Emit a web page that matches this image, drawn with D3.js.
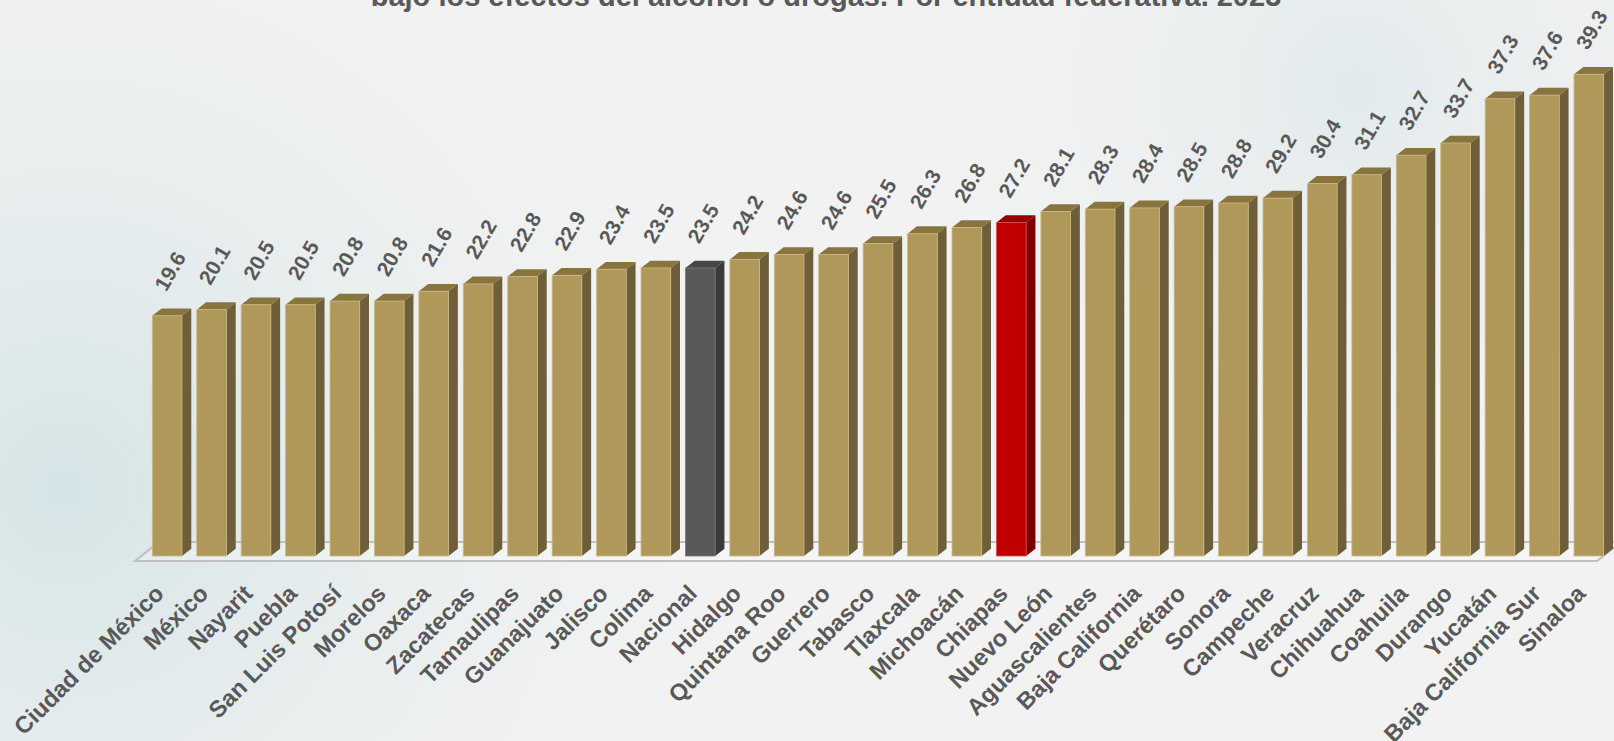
<!DOCTYPE html>
<html>
<head>
    <meta charset="utf-8">
    <title>entidades_2023</title>
    <script src="https://d3js.org/d3.v7.min.js"></script>
    <style>
        html, body { margin: 0; padding: 0; background: #f2f2f2; }
        svg { display: block; }
        text { font-family: "Liberation Sans", Arial, sans-serif; font-weight: bold; fill: #595959; }
    </style>
</head>
<body>
    <svg width="1614" height="741"></svg>
    <script>
        // Entidades ordenadas de menor a mayor
        var estados = ["Ciudad de México", "México", "Nayarit", "Puebla", "San Luis Potosí", "Morelos",
            "Oaxaca", "Zacatecas", "Tamaulipas", "Guanajuato", "Jalisco", "Colima", "Nacional",
            "Hidalgo", "Quintana Roo", "Guerrero", "Tabasco", "Tlaxcala", "Michoacán", "Chiapas",
            "Nuevo León", "Aguascalientes", "Baja California", "Querétaro", "Sonora", "Campeche",
            "Veracruz", "Chihuahua", "Coahuila", "Durango", "Yucatán", "Baja California Sur", "Sinaloa"];

        var porcentajes = [19.6, 20.1, 20.5, 20.5, 20.8, 20.8, 21.6, 22.2, 22.8, 22.9, 23.4, 23.5, 23.5,
            24.2, 24.6, 24.6, 25.5, 26.3, 26.8, 27.2, 28.1, 28.3, 28.4, 28.5, 28.8, 29.2,
            30.4, 31.1, 32.7, 33.7, 37.3, 37.6, 39.3];

        var titulo = "bajo los efectos del alcohol o drogas. Por entidad federativa. 2023";

        var svg = d3.select("svg");
        var W = 1614, H = 741;

        // fondo con degradados suaves
        var defs = svg.append("defs");
        var g1 = defs.append("radialGradient").attr("id", "bg1")
            .attr("cx", 0.04).attr("cy", 0.66).attr("r", 0.45)
            .attr("gradientTransform", "translate(0.04,0.66) scale(1,2.2) translate(-0.04,-0.66)");
        g1.append("stop").attr("offset", "0%").attr("stop-color", "#d4e4e6");
        g1.append("stop").attr("offset", "100%").attr("stop-color", "#f2f2f2").attr("stop-opacity", 0);
        var g2 = defs.append("radialGradient").attr("id", "bg2")
            .attr("cx", 0.84).attr("cy", 0.12).attr("r", 0.3)
            .attr("gradientTransform", "translate(0.84,0.12) scale(1,2.2) translate(-0.84,-0.12)");
        g2.append("stop").attr("offset", "0%").attr("stop-color", "#e2eaec");
        g2.append("stop").attr("offset", "100%").attr("stop-color", "#f2f2f2").attr("stop-opacity", 0);

        svg.append("rect").attr("width", W).attr("height", H).attr("fill", "#f2f2f2");
        svg.append("rect").attr("width", W).attr("height", H).attr("fill", "url(#bg1)");
        svg.append("rect").attr("width", W).attr("height", H).attr("fill", "url(#bg2)");

        // escalas
        var x = d3.scaleBand()
            .domain(estados)
            .range([152.3, 1603.7])
            .paddingInner(0.332)
            .paddingOuter(0);

        var y = d3.scaleLinear()
            .domain([0, 39.3])
            .range([556, 74.3]);

        var dx = 9.3, dy = 7.3;   // profundidad 3D

        // piso
        var pisoFrente = 561, pisoFondo = 542;
        svg.append("path")
            .attr("d", "M135," + pisoFrente + " L1597," + pisoFrente + " L1621," + pisoFondo +
                " L159," + pisoFondo + " Z")
            .attr("fill", "rgba(255,255,255,0.25)")
            .attr("stroke", "#bfbfbf")
            .attr("stroke-width", 2);

        function colores(nombre) {
            if (nombre === "Nacional") return { frente: "#595959", lado: "#3a3a3a", tapa: "#474747", borde: "#7a7a7a" };
            if (nombre === "Chiapas") return { frente: "#c00000", lado: "#7a0000", tapa: "#990000", borde: "#e04a4a" };
            return { frente: "#af985a", lado: "#6e5f3a", tapa: "#87743f", borde: "#cbb982" };
        }

        var datos = estados.map(function(d, i) { return { nombre: d, valor: porcentajes[i] }; });

        var barras = svg.selectAll("g.barra")
            .data(datos)
            .enter()
            .append("g")
            .attr("class", "barra");

        var base = y(0);
        var w = x.bandwidth();

        // cara lateral
        barras.append("path")
            .attr("d", function(d) {
                var x0 = x(d.nombre) + w, t = y(d.valor);
                return "M" + x0 + "," + t + " L" + (x0 + dx) + "," + (t - dy) +
                    " L" + (x0 + dx) + "," + (base - dy) + " L" + x0 + "," + base + " Z";
            })
            .attr("fill", function(d) { return colores(d.nombre).lado; });

        // tapa
        barras.append("path")
            .attr("d", function(d) {
                var x0 = x(d.nombre), t = y(d.valor);
                return "M" + x0 + "," + t + " L" + (x0 + w) + "," + t + " L" + (x0 + w + dx) + "," + (t - dy) +
                    " L" + (x0 + dx) + "," + (t - dy) + " Z";
            })
            .attr("fill", function(d) { return colores(d.nombre).tapa; });

        // frente
        barras.append("rect")
            .attr("x", function(d) { return x(d.nombre); })
            .attr("y", function(d) { return y(d.valor); })
            .attr("width", w)
            .attr("height", function(d) { return base - y(d.valor); })
            .attr("fill", function(d) { return colores(d.nombre).frente; })
            .attr("stroke", function(d) { return colores(d.nombre).borde; })
            .attr("stroke-width", 0.8);

        // etiquetas de valor
        barras.append("text")
            .attr("transform", function(d) {
                var cx = x(d.nombre) + w / 2 - 1;
                var cy = y(d.valor) - dy - 16;
                return "translate(" + cx + "," + cy + ") rotate(-60)";
            })
            .attr("font-size", "21px")
            .text(function(d) { return d.valor.toFixed(1); });

        // etiquetas de categoría
        svg.selectAll("text.cat")
            .data(estados)
            .enter()
            .append("text")
            .attr("class", "cat")
            .attr("text-anchor", "end")
            .attr("transform", function(d) {
                return "translate(" + (x(d) + w / 2 - 2) + "," + 595 + ") rotate(-45)";
            })
            .attr("font-size", "23.5px")
            .text(function(d) { return d; });

        // título (cortado por arriba, como en el original)
        svg.append("text")
            .attr("x", 826)
            .attr("y", 6)
            .attr("text-anchor", "middle")
            .attr("font-size", "29px")
            .text(titulo);
    </script>
</body>
</html>
